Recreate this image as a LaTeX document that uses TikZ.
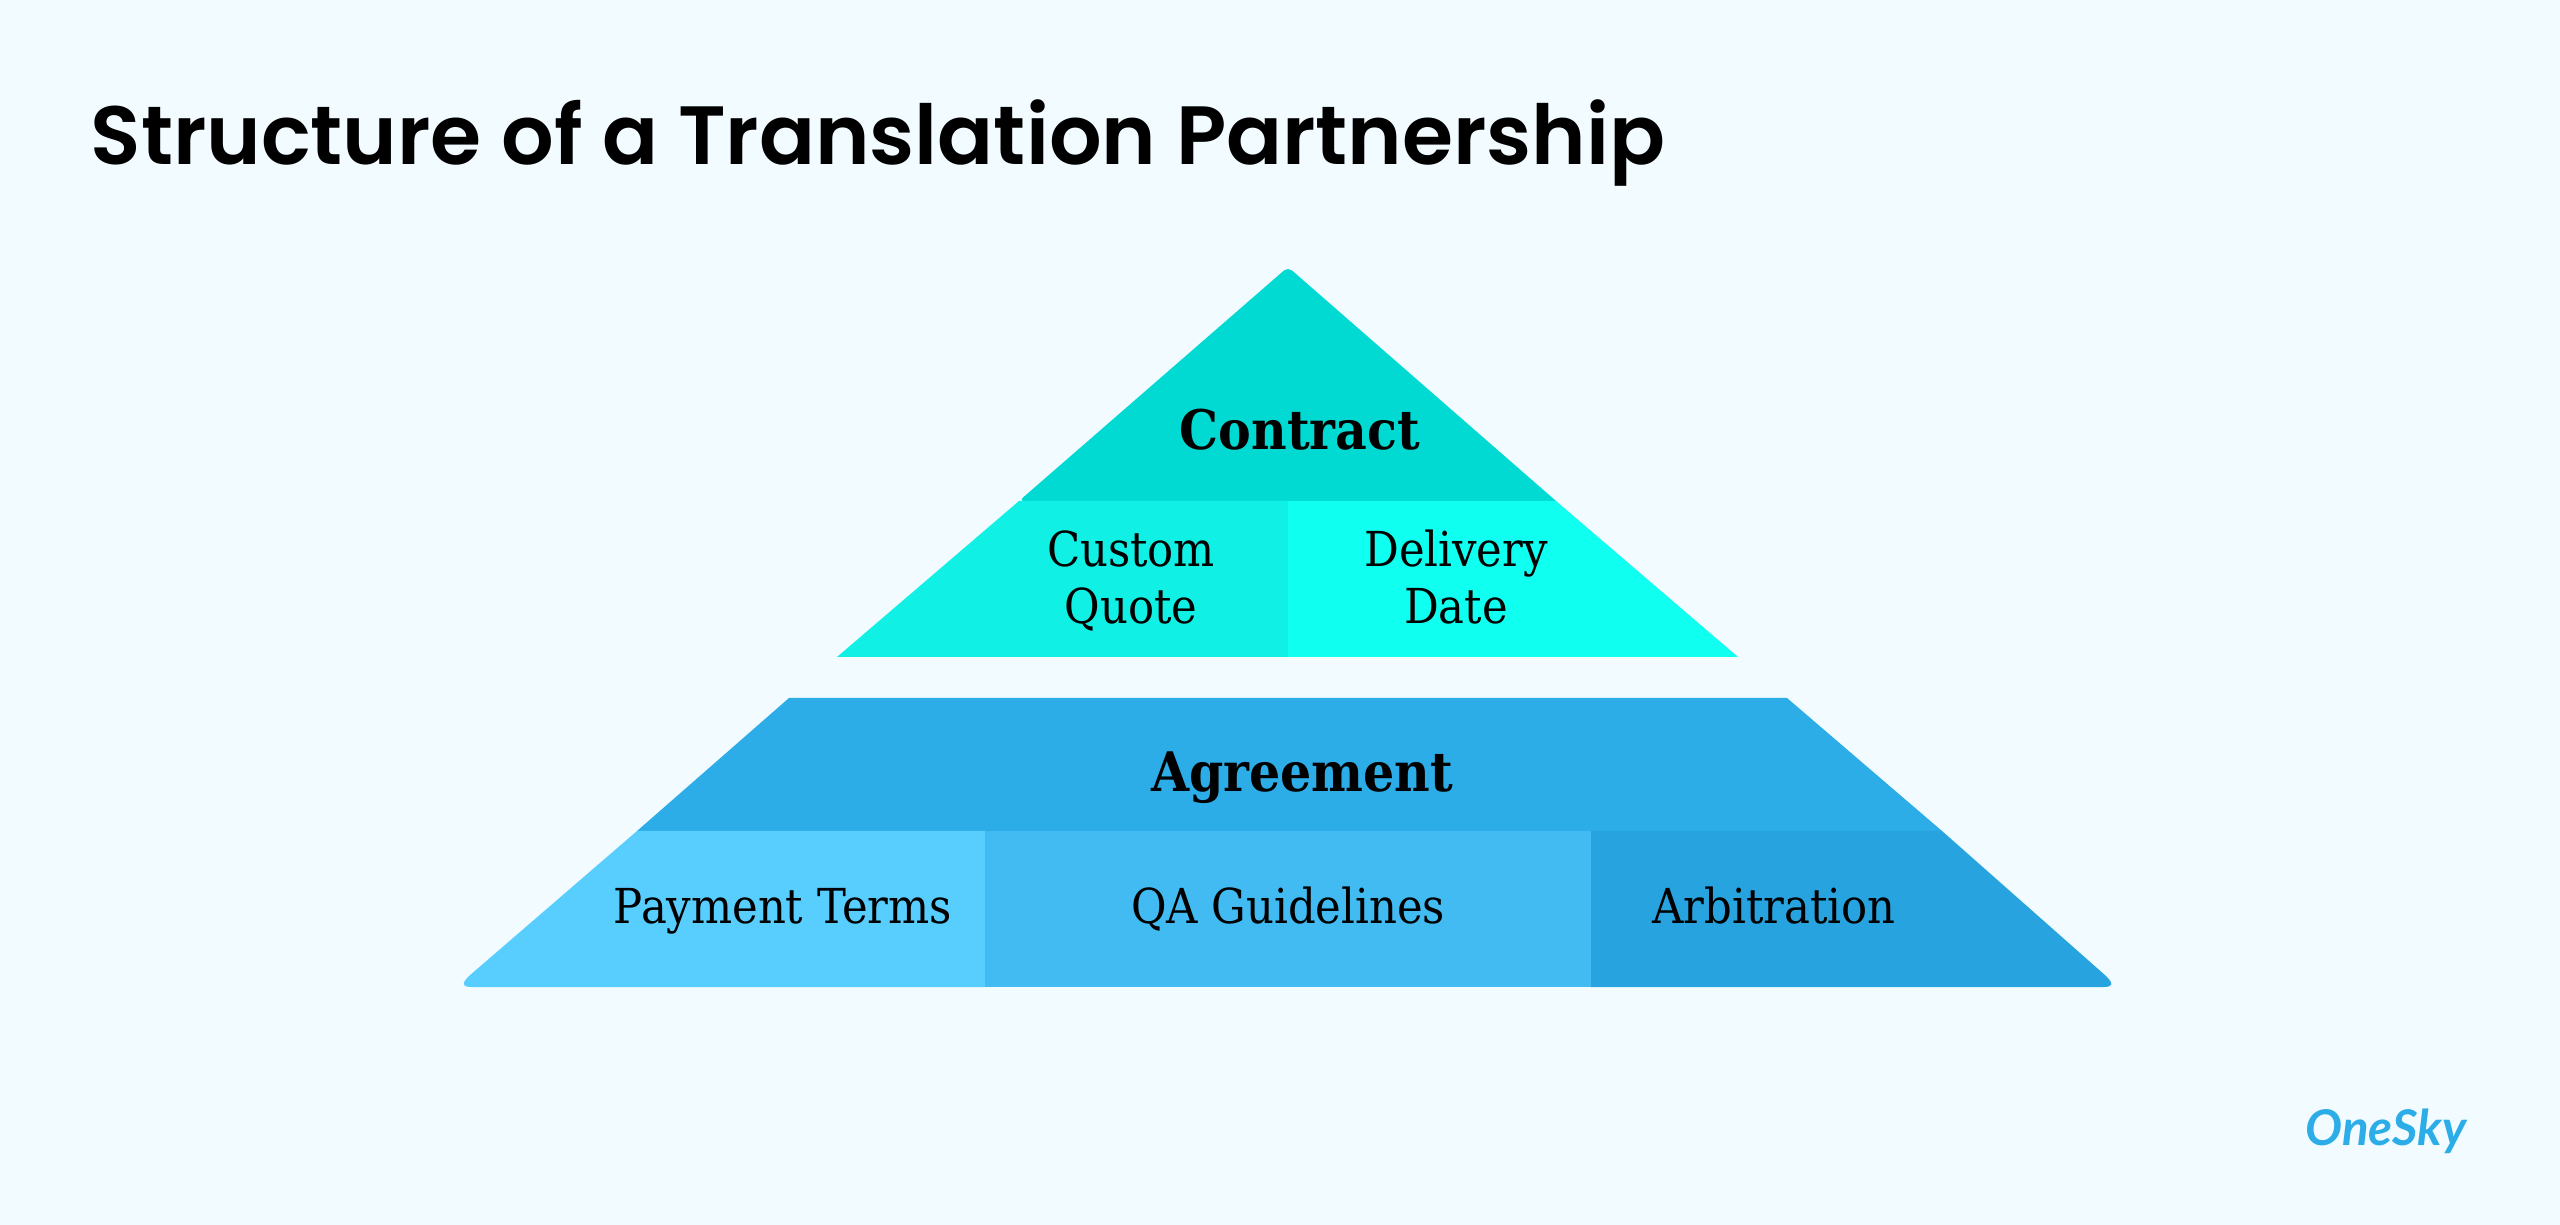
\documentclass[tikz,border=0pt]{standalone}
\usepackage{fontspec}
\setmainfont{DejaVu Serif Condensed}
\newfontfamily\titlefont{Poppins}[UprightFont=* SemiBold]
\newfontfamily\logofont{Lato}
\definecolor{figBack}{HTML}{F2FBFF}
\definecolor{figContract}{HTML}{00DAD3}
\definecolor{figQuote}{HTML}{10F0E4}
\definecolor{figDate}{HTML}{0FFFF0}
\definecolor{figAgree}{HTML}{2DADE8}
\definecolor{figTerms}{HTML}{58CEFF}
\definecolor{figGuide}{HTML}{41BBF2}
\definecolor{figArbit}{HTML}{27A4DF}
\tikzset{
  headlabel/.style={anchor=base,inner sep=0pt,font=\fontsize{15.5}{18}\selectfont\bfseries},
  partlabel/.style={anchor=base,inner sep=0pt,font=\fontsize{13.7}{16}\selectfont},
}

\begin{document}
\begin{tikzpicture}[x=0.01cm,y=-0.01cm]
\useasboundingbox (0,0) rectangle (2560,1225);
\fill[figBack] (0,0) rectangle (2560,1225);
\node[anchor=base west,inner sep=0pt,font=\titlefont\fontsize{23.5}{30}\selectfont] (title) at (90,165) {Structure of a Translation Partnership};
% upper triangle
\coordinate (apex) at (1288,267);
\coordinate (cl) at (1019,501);
\coordinate (cm) at (1288,501);
\coordinate (cr) at (1556,501);
\coordinate (bl) at (837,657);
\coordinate (bm) at (1288,657);
\coordinate (br) at (1738,657);
\fill[figContract] (cl) -- (cr) [rounded corners=1.5pt] -- (apex) -- cycle;
\fill[figQuote] (cl) -- (cm) -- (bm) -- (bl) -- cycle;
\fill[figDate] (cm) -- (cr) -- (br) -- (bm) -- cycle;
\node[headlabel] (contract) at (1300,450) {Contract};
\node[partlabel] (custom) at (1131,567) {Custom};
\node[partlabel] (quote) at (1131,624) {Quote};
\node[partlabel] (delivery) at (1456,567) {Delivery};
\node[partlabel] (date) at (1456,624) {Date};
% lower trapezoid
\coordinate (tl) at (789,698);
\coordinate (tr) at (1787,698);
\coordinate (ml) at (637,831);
\coordinate (ma) at (985,831);
\coordinate (mb) at (1591,831);
\coordinate (mr) at (1942,831);
\coordinate (ea) at (985,987);
\coordinate (eb) at (1591,987);
\fill[figAgree] (tl) -- (tr) -- (mr) -- (ml) -- cycle;
\fill[figTerms] (ma) -- (ml) -- (469,976) .. controls (461,984) and (462,987) .. (472,987) -- (ea) -- cycle;
\fill[figGuide] (ma) -- (mb) -- (eb) -- (ea) -- cycle;
\fill[figArbit] (mb) -- (mr) -- (2106,976) .. controls (2114,984) and (2113,987) .. (2103,987) -- (eb) -- cycle;
\node[headlabel] (agreement) at (1302,791) {Agreement};
\node[partlabel] (payment) at (783,923) {Payment Terms};
\node[partlabel] (guidelines) at (1288,923) {QA Guidelines};
\node[partlabel] (arbitration) at (1774,923) {Arbitration};
% logo
\node[anchor=base,inner sep=0pt,text=figAgree,font=\logofont\fontsize{14}{18}\selectfont\bfseries\itshape] (logo) at (2386,1145) {OneSky};
\end{tikzpicture}
\end{document}
